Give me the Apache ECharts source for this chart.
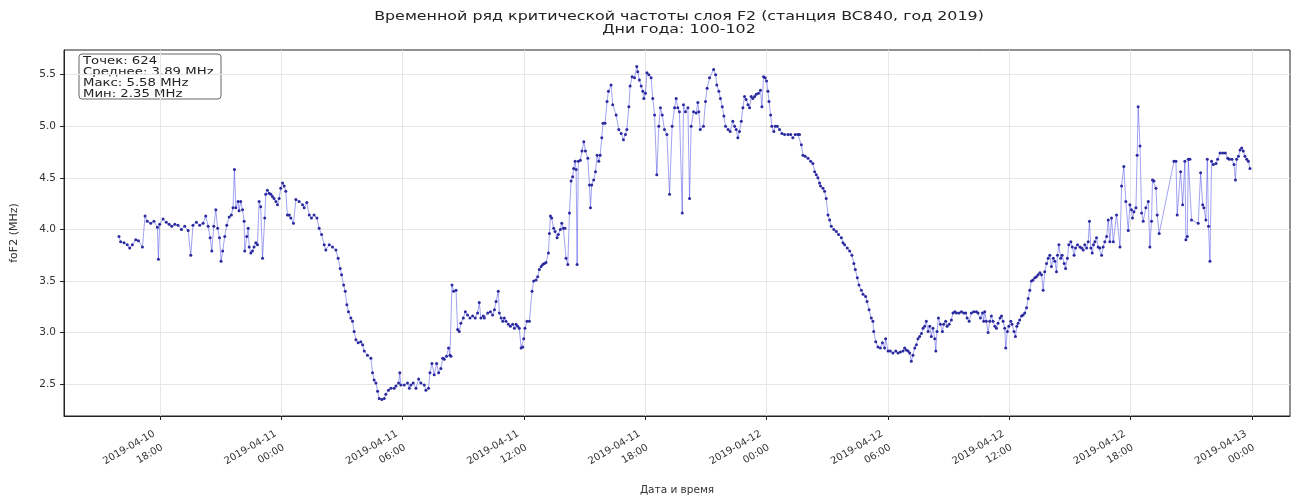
<!DOCTYPE html>
<html>
<head>
<meta charset="utf-8">
<script src="https://cdn.jsdelivr.net/npm/echarts@6/dist/echarts.min.js"></script>
<style>
  html, body { margin: 0; padding: 0; background: #fff; }
  #chart { width: 1295px; height: 497px; }
</style>
</head>
<body>
<div id="chart"></div>
<script>
// foF2, station BC840, 2019 — readings as [hour of day, MHz], one array per day of year
const day100 = [
  [15.97, 3.93], [16.05, 3.88], [16.22, 3.87], [16.38, 3.85], [16.50, 3.82], [16.63, 3.85], [16.80, 3.90], [16.93, 3.89],
  [17.13, 3.83], [17.26, 4.13], [17.37, 4.08], [17.54, 4.06], [17.70, 4.08], [17.87, 4.02], [17.92, 3.71], [17.98, 4.05],
  [18.15, 4.10], [18.31, 4.07], [18.45, 4.05], [18.58, 4.03], [18.73, 4.05], [18.89, 4.04], [19.06, 4.00], [19.22, 4.03],
  [19.39, 3.99], [19.52, 3.75], [19.63, 4.04], [19.80, 4.07], [19.96, 4.04], [20.13, 4.06], [20.26, 4.13], [20.38, 4.03],
  [20.48, 3.92], [20.56, 3.79], [20.66, 4.03], [20.76, 4.19], [20.85, 4.01], [20.94, 3.92], [21.02, 3.69], [21.10, 3.79],
  [21.20, 3.93], [21.30, 4.04], [21.42, 4.12], [21.53, 4.14], [21.61, 4.21], [21.68, 4.58], [21.75, 4.21], [21.86, 4.27],
  [21.91, 4.18], [21.99, 4.27], [22.08, 4.19], [22.16, 4.08], [22.19, 3.79], [22.29, 3.93], [22.36, 4.01], [22.41, 3.83],
  [22.49, 3.77], [22.57, 3.79], [22.65, 3.83], [22.74, 3.87], [22.82, 3.85], [22.90, 4.27], [22.98, 4.22], [23.07, 3.72],
  [23.18, 4.11], [23.23, 4.34], [23.31, 4.38], [23.40, 4.35], [23.48, 4.34], [23.56, 4.32], [23.64, 4.30], [23.73, 4.27],
  [23.81, 4.24], [23.89, 4.30], [23.97, 4.40]
];
const day101 = [
  [0.06, 4.45], [0.14, 4.42], [0.22, 4.37], [0.30, 4.14], [0.39, 4.14], [0.47, 4.11], [0.60, 4.06], [0.72, 4.29],
  [0.88, 4.27], [1.05, 4.24], [1.13, 4.21], [1.26, 4.26], [1.38, 4.14], [1.49, 4.11], [1.62, 4.14], [1.76, 4.11],
  [1.87, 4.01], [1.99, 3.95], [2.12, 3.85], [2.20, 3.80], [2.37, 3.85], [2.53, 3.83], [2.70, 3.80], [2.81, 3.72],
  [2.91, 3.62], [2.98, 3.56], [3.08, 3.46], [3.16, 3.40], [3.24, 3.27], [3.32, 3.20], [3.44, 3.14], [3.52, 3.11],
  [3.60, 3.01], [3.69, 2.93], [3.80, 2.90], [3.93, 2.91], [4.02, 2.88], [4.10, 2.82], [4.26, 2.78], [4.43, 2.75],
  [4.51, 2.61], [4.59, 2.54], [4.68, 2.51], [4.76, 2.43], [4.84, 2.36], [4.97, 2.35], [5.09, 2.36], [5.17, 2.40],
  [5.30, 2.44], [5.42, 2.46], [5.58, 2.46], [5.67, 2.48], [5.80, 2.51], [5.86, 2.61], [5.91, 2.49], [6.08, 2.49],
  [6.24, 2.51], [6.33, 2.46], [6.41, 2.49], [6.52, 2.51], [6.66, 2.46], [6.79, 2.55], [6.90, 2.51], [7.07, 2.49],
  [7.15, 2.44], [7.28, 2.46], [7.35, 2.61], [7.45, 2.70], [7.56, 2.59], [7.68, 2.70], [7.78, 2.61], [7.89, 2.65],
  [7.98, 2.75], [8.06, 2.74], [8.17, 2.77], [8.27, 2.85], [8.34, 2.78], [8.39, 2.77], [8.44, 3.46], [8.52, 3.40],
  [8.64, 3.41], [8.72, 3.03], [8.80, 3.01], [8.88, 3.09], [9.00, 3.14], [9.10, 3.20], [9.21, 3.17], [9.33, 3.14],
  [9.46, 3.16], [9.59, 3.14], [9.71, 3.19], [9.79, 3.29], [9.87, 3.14], [9.99, 3.16], [10.04, 3.14], [10.21, 3.19],
  [10.34, 3.20], [10.45, 3.17], [10.54, 3.22], [10.62, 3.30], [10.73, 3.40], [10.78, 3.19], [10.87, 3.14], [10.95, 3.11],
  [11.03, 3.14], [11.11, 3.11], [11.23, 3.08], [11.33, 3.06], [11.44, 3.08], [11.53, 3.04], [11.61, 3.08], [11.69, 3.06],
  [11.77, 3.04], [11.86, 2.85], [11.94, 2.86], [11.99, 2.94], [12.05, 3.04], [12.15, 3.11], [12.27, 3.11], [12.40, 3.40],
  [12.48, 3.50], [12.60, 3.51], [12.68, 3.54], [12.76, 3.61], [12.85, 3.64], [12.93, 3.66], [13.01, 3.67], [13.09, 3.68],
  [13.21, 3.77], [13.26, 3.96], [13.31, 4.13], [13.37, 4.11], [13.47, 4.01], [13.54, 3.98], [13.64, 3.92], [13.70, 3.95],
  [13.80, 4.00], [13.87, 4.06], [13.95, 4.01], [14.03, 4.01], [14.08, 3.72], [14.17, 3.66], [14.25, 4.16], [14.33, 4.47],
  [14.41, 4.51], [14.46, 4.59], [14.53, 4.66], [14.58, 4.58], [14.63, 3.66], [14.69, 4.66], [14.79, 4.67], [14.87, 4.76],
  [14.96, 4.85], [15.04, 4.76], [15.16, 4.69], [15.24, 4.43], [15.29, 4.21], [15.35, 4.43], [15.45, 4.48], [15.54, 4.56],
  [15.62, 4.72], [15.70, 4.66], [15.77, 4.72], [15.85, 4.89], [15.91, 5.03], [16.01, 5.03], [16.11, 5.24], [16.18, 5.34],
  [16.31, 5.40], [16.39, 5.21], [16.56, 5.11], [16.69, 4.97], [16.81, 4.93], [16.92, 4.87], [17.02, 4.92], [17.09, 4.97],
  [17.19, 5.19], [17.25, 5.39], [17.35, 5.48], [17.47, 5.47], [17.58, 5.58], [17.63, 5.53], [17.71, 5.45], [17.80, 5.39],
  [17.88, 5.34], [17.93, 5.27], [18.01, 5.32], [18.08, 5.52], [18.18, 5.50], [18.29, 5.47], [18.37, 5.27], [18.46, 5.11],
  [18.57, 4.53], [18.67, 5.00], [18.75, 5.18], [18.84, 5.11], [18.95, 4.97], [19.07, 4.92], [19.20, 4.34], [19.33, 5.00],
  [19.45, 5.18], [19.53, 5.27], [19.61, 5.18], [19.69, 5.14], [19.83, 4.16], [19.89, 5.21], [19.99, 5.14], [20.11, 5.18],
  [20.19, 4.30], [20.27, 5.00], [20.39, 5.14], [20.52, 5.13], [20.60, 5.23], [20.65, 5.14], [20.72, 4.97], [20.88, 5.00],
  [20.98, 5.24], [21.06, 5.37], [21.18, 5.47], [21.38, 5.55], [21.48, 5.50], [21.54, 5.40], [21.64, 5.34], [21.72, 5.27],
  [21.81, 5.19], [21.89, 5.10], [21.97, 5.00], [22.10, 4.97], [22.20, 4.95], [22.33, 5.05], [22.42, 5.00], [22.50, 4.97],
  [22.58, 4.89], [22.66, 4.95], [22.75, 5.05], [22.83, 5.18], [22.91, 5.29], [22.99, 5.26], [23.08, 5.21], [23.16, 5.18],
  [23.24, 5.29], [23.32, 5.27], [23.41, 5.29], [23.49, 5.31], [23.60, 5.32], [23.70, 5.35], [23.77, 5.19], [23.85, 5.48],
  [23.93, 5.47]
];
const day102 = [
  [0.00, 5.44], [0.07, 5.34], [0.12, 5.24], [0.20, 5.11], [0.26, 5.00], [0.36, 4.95], [0.43, 5.00], [0.53, 5.00],
  [0.64, 4.97], [0.76, 4.93], [0.89, 4.92], [1.06, 4.92], [1.19, 4.92], [1.30, 4.89], [1.42, 4.92], [1.55, 4.92],
  [1.63, 4.92], [1.72, 4.82], [1.80, 4.72], [1.91, 4.71], [2.05, 4.69], [2.18, 4.66], [2.29, 4.64], [2.38, 4.56],
  [2.46, 4.53], [2.54, 4.50], [2.62, 4.45], [2.67, 4.42], [2.79, 4.40], [2.87, 4.37], [2.95, 4.30], [3.04, 4.14],
  [3.12, 4.09], [3.20, 4.03], [3.33, 4.00], [3.45, 3.98], [3.56, 3.95], [3.70, 3.92], [3.78, 3.87], [3.86, 3.85],
  [3.99, 3.82], [4.11, 3.79], [4.22, 3.75], [4.32, 3.67], [4.39, 3.61], [4.49, 3.53], [4.57, 3.46], [4.69, 3.41],
  [4.77, 3.37], [4.90, 3.35], [4.97, 3.30], [5.07, 3.22], [5.18, 3.14], [5.26, 3.11], [5.30, 3.01], [5.40, 2.91],
  [5.51, 2.86], [5.63, 2.85], [5.73, 2.90], [5.84, 2.85], [5.89, 2.94], [6.01, 2.82], [6.12, 2.82], [6.25, 2.80],
  [6.39, 2.82], [6.50, 2.80], [6.62, 2.81], [6.75, 2.82], [6.83, 2.85], [6.91, 2.83], [7.00, 2.82], [7.08, 2.80],
  [7.16, 2.72], [7.24, 2.78], [7.33, 2.85], [7.41, 2.88], [7.49, 2.94], [7.57, 2.96], [7.66, 2.99], [7.74, 3.04],
  [7.82, 3.06], [7.90, 3.11], [7.99, 3.01], [8.07, 3.06], [8.15, 2.96], [8.23, 3.04], [8.32, 2.94], [8.37, 2.82],
  [8.43, 3.01], [8.50, 3.14], [8.60, 3.08], [8.70, 3.01], [8.76, 3.08], [8.86, 3.11], [8.93, 3.06], [9.03, 3.08],
  [9.14, 3.12], [9.22, 3.19], [9.31, 3.20], [9.39, 3.19], [9.52, 3.19], [9.64, 3.20], [9.75, 3.19], [9.85, 3.19],
  [9.92, 3.14], [10.02, 3.11], [10.13, 3.19], [10.25, 3.20], [10.38, 3.20], [10.46, 3.19], [10.58, 3.14], [10.68, 3.19],
  [10.74, 3.11], [10.79, 3.20], [10.87, 3.11], [10.96, 3.00], [11.04, 3.11], [11.12, 3.16], [11.20, 3.11], [11.29, 3.06],
  [11.37, 3.04], [11.45, 3.09], [11.55, 3.14], [11.62, 3.16], [11.70, 3.11], [11.78, 3.04], [11.83, 2.85], [11.91, 3.01],
  [11.98, 3.06], [12.08, 3.11], [12.14, 3.08], [12.24, 3.01], [12.31, 2.96], [12.38, 3.06], [12.44, 3.09], [12.52, 3.12],
  [12.61, 3.16], [12.69, 3.17], [12.77, 3.19], [12.86, 3.24], [12.94, 3.33], [13.02, 3.41], [13.10, 3.50], [13.18, 3.51],
  [13.27, 3.53], [13.35, 3.54], [13.43, 3.56], [13.52, 3.58], [13.60, 3.56], [13.68, 3.41], [13.76, 3.59], [13.85, 3.67],
  [13.93, 3.72], [14.01, 3.75], [14.09, 3.64], [14.18, 3.72], [14.26, 3.69], [14.34, 3.59], [14.39, 3.75], [14.46, 3.85],
  [14.55, 3.72], [14.62, 3.75], [14.72, 3.67], [14.79, 3.62], [14.88, 3.72], [14.95, 3.85], [15.05, 3.88], [15.12, 3.83],
  [15.21, 3.75], [15.28, 3.82], [15.38, 3.85], [15.50, 3.83], [15.58, 3.82], [15.66, 3.80], [15.74, 3.85], [15.83, 3.82],
  [15.91, 3.88], [15.97, 4.08], [16.04, 3.82], [16.11, 3.77], [16.17, 3.85], [16.24, 3.88], [16.32, 3.92], [16.40, 3.83],
  [16.49, 3.82], [16.57, 3.75], [16.65, 3.83], [16.73, 3.88], [16.82, 3.93], [16.90, 4.09], [16.98, 3.88], [17.06, 4.11],
  [17.15, 3.88], [17.31, 4.14], [17.48, 3.83], [17.56, 4.42], [17.67, 4.61], [17.77, 4.27], [17.89, 3.99], [17.97, 4.24],
  [18.05, 4.19], [18.10, 4.11], [18.17, 4.17], [18.27, 4.21], [18.33, 4.72], [18.38, 5.19], [18.47, 4.81], [18.55, 4.16],
  [18.63, 4.08], [18.76, 4.21], [18.88, 4.27], [18.96, 3.83], [19.04, 4.08], [19.09, 4.48], [19.16, 4.47], [19.26, 4.40],
  [19.32, 4.14], [19.42, 3.96], [20.15, 4.66], [20.25, 4.66], [20.31, 4.14], [20.48, 4.56], [20.58, 4.24], [20.69, 4.66],
  [20.74, 3.90], [20.81, 3.93], [20.86, 4.68], [20.94, 4.68], [21.02, 4.09], [21.35, 4.06], [21.47, 4.55], [21.57, 4.24],
  [21.63, 4.21], [21.73, 4.09], [21.80, 4.68], [21.86, 4.03], [21.93, 3.69], [22.01, 4.66], [22.10, 4.63], [22.23, 4.64],
  [22.31, 4.68], [22.43, 4.74], [22.56, 4.74], [22.69, 4.74], [22.81, 4.69], [22.89, 4.68], [23.02, 4.68], [23.12, 4.63],
  [23.19, 4.48], [23.25, 4.68], [23.34, 4.71], [23.42, 4.77], [23.50, 4.79], [23.58, 4.76], [23.66, 4.71], [23.75, 4.68],
  [23.83, 4.66], [23.91, 4.59]
];

const DAYS = [day100, day101, day102];     // 2019-04-10 .. 2019-04-12
const xTicks = [18, 24, 30, 36, 42, 48, 54, 60, 66, 72];   // hours since 2019-04-10 00:00
const yTicks = [2.5, 3.0, 3.5, 4.0, 4.5, 5.0, 5.5];
const statsLines = ['Точек: 624', 'Среднее: 3.89 MHz', 'Макс: 5.58 MHz', 'Мин: 2.35 MHz'];
const titleLines = ['Временной ряд критической частоты слоя F2 (станция BC840, год 2019)', 'Дни года: 100-102'];
const X_NAME = 'Дата и время';

const FONT = 'DejaVu Sans';
const TEXT = '#333';
const GRID_LINE = '#e6e6e6';
const STRETCH = 1.38;   // the source image is widened; text is drawn with the same horizontal stretch

const seriesData = DAYS.flatMap((d, i) => d.map(([h, v]) => [i * 24 + h, v]));

function pad(n) { return String(n).padStart(2, '0'); }
function fmtHour(h) {
  const day = 10 + Math.floor(h / 24);
  const hh = Math.round(h % 24);
  return `2019-04-${pad(day)}\n${pad(hh)}:00`;
}

const chart = echarts.init(document.getElementById('chart'), null, { renderer: 'canvas' });

chart.setOption({
  animation: false,
  backgroundColor: '#fff',
  textStyle: { fontFamily: FONT },
  graphic: [
    {
      type: 'text',
      x: 679, y: 10, scaleX: STRETCH,
      style: {
        text: titleLines.join('\n'),
        align: 'center', verticalAlign: 'top',
        font: `11.5px "${FONT}"`, lineHeight: 13.5, fill: '#222',
      },
    },
    {
      // x axis title, placed below the rotated tick labels
      type: 'text',
      x: 677, y: 490,
      style: {
        text: X_NAME,
        align: 'center', verticalAlign: 'middle',
        font: `10.5px "${FONT}"`, fill: TEXT,
      },
    },
    {
      type: 'group',
      x: 79, y: 54, z: 100,
      children: [
        {
          type: 'rect',
          shape: { x: 0, y: 0, width: 142, height: 45, r: 3 },
          style: { fill: '#fff', stroke: '#666', lineWidth: 1 },
        },
        {
          type: 'text',
          x: 4, y: 1.5, scaleX: STRETCH,
          style: {
            text: statsLines.join('\n'),
            align: 'left', verticalAlign: 'top',
            font: `9.6px "${FONT}"`, lineHeight: 11.2, fill: '#222',
          },
        },
      ],
    },
  ],
  grid: {
    left: 64, right: 5, top: 50, bottom: 81,
    outerBoundsMode: 'none',
    show: true, borderColor: '#222', borderWidth: 1,
  },
  xAxis: {
    type: 'value',
    min: 13.25, max: 73.89,
    axisLine: { show: true, onZero: false, lineStyle: { color: '#222' } },
    axisTick: { show: true, length: 4, customValues: xTicks, lineStyle: { color: '#222' } },
    axisLabel: {
      customValues: xTicks,
      rotate: 30, margin: 23,
      fontFamily: FONT, fontSize: 10, color: TEXT, lineHeight: 16,
      padding: [0, 2, 0, 0],
      formatter: fmtHour,
    },
    splitLine: { show: true, lineStyle: { color: GRID_LINE, width: 1 } },
  },
  yAxis: {
    type: 'value',
    min: 2.19, max: 5.74,
    name: 'foF2 (MHz)',
    nameLocation: 'middle',
    nameGap: 44,
    nameTextStyle: { fontFamily: FONT, fontSize: 11, color: TEXT },
    axisLine: { show: true, lineStyle: { color: '#222' } },
    axisTick: { show: true, length: 4, customValues: yTicks, lineStyle: { color: '#222' } },
    axisLabel: {
      customValues: yTicks,
      fontFamily: FONT, fontSize: 10.5, color: TEXT, margin: 8,
      formatter: (v) => v.toFixed(1),
    },
    splitLine: { show: true, lineStyle: { color: GRID_LINE, width: 1 } },
  },
  series: [{
    type: 'line',
    data: seriesData,
    showAllSymbol: true,
    symbol: 'circle',
    symbolSize: 3,
    lineStyle: { color: 'rgba(60, 60, 230, 0.6)', width: 0.8 },
    itemStyle: { color: '#2a2a9e' },
    emphasis: { disabled: true },
  }],
});
</script>
</body>
</html>
